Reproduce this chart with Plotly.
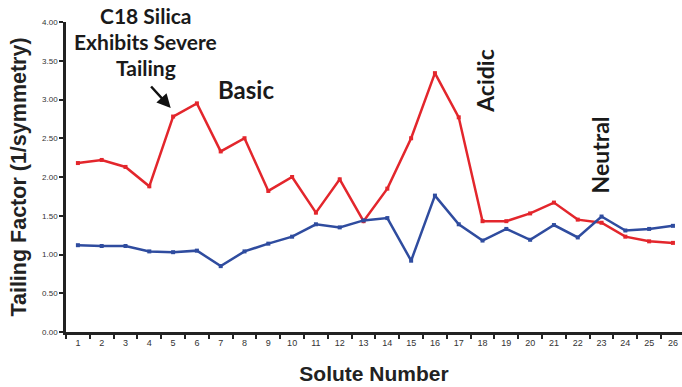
import plotly.graph_objects as go

solutes = [str(i) for i in range(1, 27)]
c18_silica = [2.18, 2.22, 2.13, 1.88, 2.78, 2.95, 2.33, 2.50, 1.82, 2.00, 1.54, 1.97, 1.43,
              1.85, 2.50, 3.34, 2.77, 1.43, 1.43, 1.53, 1.67, 1.45, 1.41, 1.23, 1.17, 1.15]
hybrid = [1.12, 1.11, 1.11, 1.04, 1.03, 1.05, 0.85, 1.04, 1.14, 1.23, 1.39, 1.35, 1.44,
          1.47, 0.92, 1.76, 1.39, 1.18, 1.33, 1.19, 1.38, 1.22, 1.49, 1.31, 1.33, 1.37]
y_ticks = [0, 0.5, 1, 1.5, 2, 2.5, 3, 3.5, 4]
note_lines = ['C18 Silica', 'Exhibits Severe', 'Tailing']

RED = '#E3262C'
BLUE = '#2F4C9F'
TXT = '#1a1a1a'

fig = go.Figure()
fig.add_trace(go.Scatter(
    x=solutes, y=c18_silica, mode='lines+markers',
    line=dict(color=RED, width=2.5),
    marker=dict(symbol='square', size=4, color=RED),
))
fig.add_trace(go.Scatter(
    x=solutes, y=hybrid, mode='lines+markers',
    line=dict(color=BLUE, width=2.5),
    marker=dict(symbol='square', size=4, color=BLUE),
))

# annotations (x given as category index); the note is set line by line for tighter spacing
for line, yp in zip(note_lines, [1.022, 0.937, 0.852]):
    fig.add_annotation(x=2.86, y=yp, xref='x', yref='paper', text=f'<b>{line}</b>',
                       showarrow=False, font=dict(family='Lato', size=21, color=TXT),
                       xanchor='center', yanchor='middle')
fig.add_annotation(x=3.9, y=2.89, xref='x', yref='y', ax=-21, ay=-23, text='',
                   showarrow=True, arrowhead=2, arrowsize=1.1, arrowwidth=2.5, arrowcolor='#111')
fig.add_annotation(x=7.05, y=3.13, xref='x', yref='y', text='<b>Basic</b>', showarrow=False,
                   font=dict(family='Lato', size=24, color=TXT))
fig.add_annotation(x=17.1, y=3.24, xref='x', yref='y', text='<b>Acidic</b>', showarrow=False,
                   font=dict(family='Lato', size=23, color=TXT), textangle=-90)
fig.add_annotation(x=21.94, y=2.28, xref='x', yref='y', text='<b>Neutral</b>', showarrow=False,
                   font=dict(family='Lato', size=23, color=TXT), textangle=-90)

fig.update_layout(
    width=682, height=387,
    margin=dict(l=66, r=0, t=22, b=55),
    plot_bgcolor='white', paper_bgcolor='white',
    showlegend=False,
    font=dict(family='Arial', color='#222'),
)
fig.update_xaxes(
    type='category', range=[-0.5, 25.38], automargin=False,
    tickson='boundaries', ticks='outside', ticklen=4, tickwidth=2, tickcolor='#222',
    showline=True, linecolor='#222', linewidth=2.5, showgrid=False,
    tickfont=dict(family='Arial', size=9, color='#333'),
    title=dict(text='<b>Solute Number</b>', font=dict(family='Arial', size=21, color='#222'), standoff=20),
)
fig.update_yaxes(
    range=[0, 4], tickvals=y_ticks, tickformat='.2f', automargin=False,
    ticks='outside', ticklen=4, tickwidth=2, tickcolor='#222',
    showline=True, linecolor='#222', linewidth=2.5, showgrid=False, zeroline=False,
    tickfont=dict(family='Arial', size=8, color='#333'),
    title=dict(text='<b>Tailing Factor (1/symmetry)</b>', font=dict(family='Arial', size=21.5, color='#222'), standoff=10),
)

fig.write_html('out.html', config={'displayModeBar': False},
               post_script="document.body.style.margin='0';")
